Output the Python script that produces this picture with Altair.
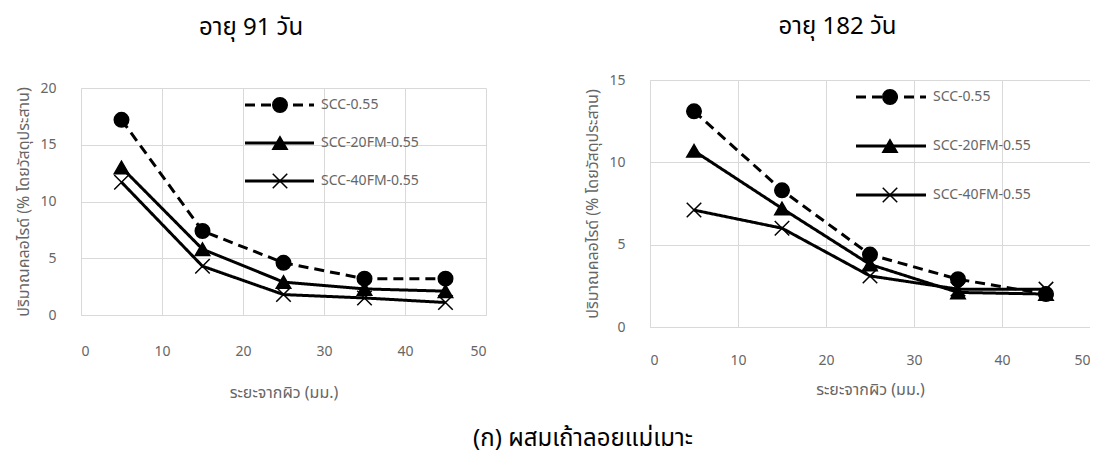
import altair as alt
import pandas as pd

distance = [5, 15, 25, 35, 45]
series_names = ["SCC-0.55", "SCC-20FM-0.55", "SCC-40FM-0.55"]

d91_scc = [17.2, 7.4, 4.6, 3.2, 3.2]
d91_20fm = [13.0, 5.8, 2.9, 2.3, 2.1]
d91_40fm = [11.7, 4.3, 1.8, 1.5, 1.1]

d182_scc = [13.1, 8.3, 4.4, 2.9, 2.0]
d182_20fm = [10.7, 7.2, 3.8, 2.1, 2.0]
d182_40fm = [7.1, 6.0, 3.1, 2.3, 2.3]

x_ticks = [0, 10, 20, 30, 40, 50]
y_ticks_91 = [0, 5, 10, 15, 20]
y_ticks_182 = [0, 5, 10, 15]

x_title = "ระยะจากผิว (มม.)"
y_title = "ปริมาณคลอไรด์ (% โดยวัสดุประสาน)"
title_91 = "อายุ 91 วัน"
title_182 = "อายุ 182 วัน"
caption = "(ก) ผสมเถ้าลอยแม่เมาะ"

FONT = "Noto Sans Thai, Noto Sans Thai Looped, Loma, Garuda, Noto Sans"
GRAY = "#666666"
MSIZE = 210
LW = 3


def long_df(values):
    rows = []
    for name, vals in zip(series_names, values):
        for d, v in zip(distance, vals):
            rows.append({"series": name, "distance": d, "chloride": v})
    return pd.DataFrame(rows)


shape_scale = alt.Scale(domain=series_names,
                        range=["circle", "triangle-up", "M-1,-1L1,1M-1,1L1,-1"])
fill_scale = alt.Scale(domain=series_names, range=["black", "black", "transparent"])
dash_scale = alt.Scale(domain=series_names, range=[[10, 6], [1, 0], [1, 0]])


def title_params(text, offset):
    return alt.TitleParams(text, fontSize=24, font=FONT, fontWeight="normal",
                           color="black", anchor="middle", frame="bounds",
                           offset=offset)


def panel(values, yticks, w, h, xlab_pad, xtitle_pad,
          leg_x0, leg_x1, leg_mx, leg_tx, leg_y0, leg_y1):
    df = long_df(values)
    ymax = yticks[-1]
    x_enc = alt.X("distance:Q", scale=alt.Scale(domain=[0, 50], nice=False),
                  axis=alt.Axis(values=x_ticks, title=x_title, labelPadding=xlab_pad,
                                titlePadding=xtitle_pad))
    y_enc = alt.Y("chloride:Q", scale=alt.Scale(domain=[0, ymax], nice=False),
                  axis=alt.Axis(values=yticks, title=y_title, labelPadding=25,
                                titlePadding=8))
    base = alt.Chart(df)
    line = base.mark_line(color="black", strokeWidth=LW).encode(
        x=x_enc, y=y_enc,
        strokeDash=alt.StrokeDash("series:N", scale=dash_scale, legend=None),
        detail="series:N",
    )
    pts = base.mark_point(color="black", strokeWidth=1.5, size=MSIZE, opacity=1).encode(
        x="distance:Q", y="chloride:Q",
        shape=alt.Shape("series:N", scale=shape_scale, legend=None),
        fill=alt.Fill("series:N", scale=fill_scale, legend=None),
    )
    data_layer = alt.layer(line, pts)
    # legend drawn inside the plot, Excel style
    leg_df = pd.DataFrame({"series": series_names})
    leg_y = alt.Y("series:N", sort=series_names,
                  scale=alt.Scale(type="point", domain=series_names,
                                  range=[leg_y0, leg_y1], padding=0),
                  axis=None)
    lbase = alt.Chart(leg_df)
    lrule = lbase.mark_rule(color="black", strokeWidth=LW).encode(
        x=alt.value(leg_x0), x2=alt.value(leg_x1), y=leg_y,
        strokeDash=alt.StrokeDash("series:N", scale=dash_scale, legend=None),
    )
    lpts = lbase.mark_point(color="black", strokeWidth=1.5, size=MSIZE, opacity=1).encode(
        x=alt.value(leg_mx), y=leg_y,
        shape=alt.Shape("series:N", scale=shape_scale, legend=None),
        fill=alt.Fill("series:N", scale=fill_scale, legend=None),
    )
    ltxt = lbase.mark_text(align="left", baseline="middle", fontSize=14, color=GRAY,
                           font=FONT).encode(
        x=alt.value(leg_tx), y=leg_y, text="series:N")
    legend = alt.layer(lrule, lpts, ltxt)
    return alt.layer(data_layer, legend).resolve_scale(y="independent").properties(
        width=w, height=h)


left = panel([d91_scc, d91_20fm, d91_40fm], y_ticks_91, 405, 227,
             29, 26, 164, 233, 199, 240, 17, 93)
right = panel([d182_scc, d182_20fm, d182_40fm], y_ticks_182, 440, 247,
              26, 14, 206, 276, 240, 283, 17, 115).properties(
    title=title_params(title_182, 34))

spacer = alt.Chart(pd.DataFrame({"v": [0]})).mark_point(opacity=0, size=1).encode(
    x=alt.value(0), y=alt.value(0)).properties(width=1, height=1)
left_col = alt.vconcat(spacer, left, spacing=0).properties(
    title=title_params(title_91, 40))

chart = alt.hconcat(left_col, right, spacing=98).properties(
    title=alt.TitleParams(caption, orient="bottom", fontSize=24, font=FONT,
                          fontWeight="normal", color="black", anchor="middle",
                          offset=27, dx=30),
    padding={"left": 7, "top": 7, "right": 0, "bottom": 4},
).configure_view(stroke=None).configure_axis(
    labelFont=FONT, titleFont=FONT, labelFontSize=14, titleFontSize=16,
    labelColor=GRAY, titleColor=GRAY, titleFontWeight="normal",
    gridColor="#d9d9d9", domainColor="#d9d9d9", ticks=False, grid=True,
)

chart.save("out.html", embed_options={"renderer": "svg", "actions": False})
